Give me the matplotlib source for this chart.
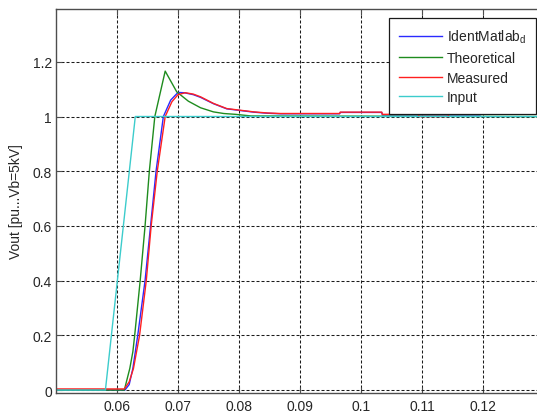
import matplotlib
matplotlib.use("Agg")
import matplotlib.pyplot as plt

# Step responses (time in s, output in pu)
t_ident = [0.05, 0.0613, 0.0620, 0.0626, 0.0634, 0.0646, 0.0655, 0.0664, 0.0676, 0.0688,
           0.0700, 0.0710, 0.0725, 0.0737, 0.0758, 0.0780, 0.0802, 0.0824, 0.0846, 0.0868,
           0.0911, 0.0965, 0.0966, 0.1034, 0.1035, 0.1196, 0.1197, 0.13]
v_ident = [0.0, 0.0, 0.02, 0.079, 0.2, 0.4, 0.6, 0.8, 1.0, 1.06,
           1.088, 1.087, 1.08, 1.07, 1.047, 1.028, 1.022, 1.016, 1.012, 1.010,
           1.010, 1.010, 1.015, 1.015, 1.006, 1.006, 1.010, 1.010]

t_theo = [0.05, 0.0612, 0.0621, 0.0626, 0.0629, 0.0638, 0.0646, 0.0653, 0.0662, 0.0679,
          0.0698, 0.0717, 0.0737, 0.0758, 0.0775, 0.0794, 0.0820, 0.13]
v_theo = [0.0, 0.0, 0.079, 0.14, 0.2, 0.4, 0.6, 0.8, 1.0, 1.166,
          1.09, 1.056, 1.032, 1.017, 1.011, 1.008, 1.002, 1.0]

t_meas = [0.05, 0.0612, 0.0620, 0.0627, 0.0637, 0.0648, 0.0656, 0.0666, 0.0679, 0.0690,
          0.0700, 0.0712, 0.0725, 0.0737, 0.0758, 0.0780, 0.0802, 0.0824, 0.0846, 0.0868,
          0.0911, 0.0965, 0.0966, 0.1034, 0.1035, 0.1094, 0.1095, 0.1143, 0.1144, 0.13]
v_meas = [0.004, 0.004, 0.03, 0.079, 0.2, 0.4, 0.6, 0.8, 1.0, 1.054,
          1.08, 1.087, 1.082, 1.072, 1.048, 1.029, 1.023, 1.017, 1.013, 1.011,
          1.011, 1.011, 1.016, 1.016, 1.008, 1.008, 1.0, 1.0, 1.011, 1.011]

t_input = [0.05, 0.0581, 0.0630, 0.13]
v_input = [0.0, 0.0, 1.0, 1.0]

x_ticks = [0.06, 0.07, 0.08, 0.09, 0.1, 0.11, 0.12]
x_ticklabels = ["0.06", "0.07", "0.08", "0.09", "0.1", "0.11", "0.12"]
y_ticks = [0, 0.2, 0.4, 0.6, 0.8, 1.0, 1.2]
y_ticklabels = ["0", "0.2", "0.4", "0.6", "0.8", "1", "1.2"]

plt.rcParams["font.family"] = ["Liberation Sans", "DejaVu Sans"]
plt.rcParams["mathtext.fontset"] = "custom"
plt.rcParams["mathtext.rm"] = "Liberation Sans"

fig = plt.figure(figsize=(5.37, 4.14), dpi=100)
ax = fig.add_axes([56 / 537, 20.5 / 414, 488 / 537, 383.2 / 414])

lw = 1.0
ax.plot(t_ident, v_ident, color="#2a2aff", lw=lw, label=r"IdentMatlab$_\mathrm{d}$")
ax.plot(t_theo, v_theo, color="#1e8c1e", lw=lw, label="Theoretical")
ax.plot(t_meas, v_meas, color="#ff2020", lw=lw, label="Measured")
ax.plot(t_input, v_input, color="#3ccccc", lw=lw, label="Input")

ax.set_xlim(0.05, 0.13)
ax.set_ylim(-0.009, 1.392)
ax.set_xticks(x_ticks)
ax.set_xticklabels(x_ticklabels)
ax.set_yticks(y_ticks)
ax.set_yticklabels(y_ticklabels)

ax.grid(True, color="#1a1a1a", lw=0.75, linestyle=(0, (2.9, 1.9)))
ax.set_axisbelow(True)

for sp in ax.spines.values():
    sp.set_color("#4d4d4d")
    sp.set_linewidth(1.0)

ax.tick_params(direction="in", top=True, right=True, length=4, width=0.8,
               color="#4d4d4d", labelsize=10, labelcolor="#262626")
ax.tick_params(axis="x", pad=4.5)
ax.tick_params(axis="y", pad=3)

ax.set_ylabel("Vout [pu...Vb=5kV]", fontsize=10, color="#262626")
ax.yaxis.set_label_coords(-0.068, 0.5)

leg = ax.legend(loc="upper right", bbox_to_anchor=(0.983, 0.978), borderaxespad=0,
                fontsize=10, fancybox=False, framealpha=1, edgecolor="#1a1a1a",
                handlelength=3.1, handletextpad=0.35, labelspacing=0.42, borderpad=0.7)
leg.get_frame().set_linewidth(0.9)
for txt in leg.get_texts():
    txt.set_color("#262626")

fig.savefig("out.png", dpi=100)
